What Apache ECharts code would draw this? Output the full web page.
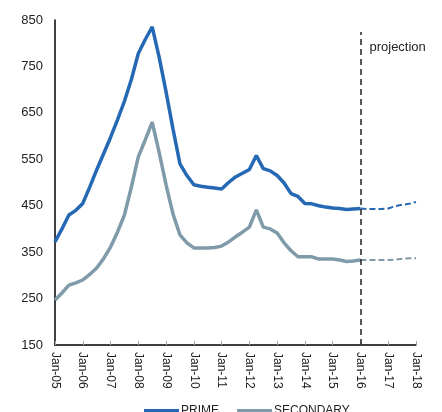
<!DOCTYPE html>
<html>
<head>
<meta charset="utf-8">
<script src="https://cdn.jsdelivr.net/npm/echarts@6/dist/echarts.min.js"></script>
<style>
  html, body { margin: 0; padding: 0; background: #fff; }
  #chart { width: 442px; height: 412px; }
</style>
</head>
<body>
<div id="chart"></div>
<script>
// Quarterly periods, Jan-05 .. Jan-18
const months = ['Jan', 'Apr', 'Jul', 'Oct'];
const periods = [];
for (let y = 5; y <= 18; y++) {
  for (let q = 0; q < 4; q++) {
    if (y === 18 && q > 0) break;
    periods.push(months[q] + '-' + String(y).padStart(2, '0'));
  }
}

// Index values, historical (Jan-05 .. Jan-16)
const primeActual = [
  372, 400, 430, 440,
  455, 490, 527, 562,
  597, 635, 675, 722,
  778, 808, 835, 770,
  695, 615, 540, 515,
  495, 492, 490, 488,
  486, 500, 512, 520,
  528, 558, 530, 525,
  515, 499, 476, 470,
  455, 454, 450, 447,
  445, 444, 442, 443,
  444
];
const secondaryActual = [
  247, 262, 279, 284,
  290, 302, 316, 336,
  361, 393, 430, 490,
  555, 592, 630, 565,
  495, 432, 387, 370,
  359, 359, 359, 360,
  363, 372, 383, 393,
  404, 441, 404, 400,
  391, 370, 353, 340,
  340, 340, 335, 335,
  335, 333, 330, 331,
  333
];

// Projection (Jan-16 .. Jan-18)
const primeProjection = [444, 443, 443, 443, 444, 449, 452, 454, 458];
const secondaryProjection = [333, 333, 333, 333, 333, 334, 336, 337, 337];

const projectionStart = 'Jan-16';
const projectionLabel = 'projection';

const primeColor = '#2568b3';
const secondaryColor = '#7f9aa9';

function padProjection(proj) {
  const offset = periods.indexOf(projectionStart);
  return periods.map((p, i) => (i >= offset ? proj[i - offset] : null));
}

const chart = echarts.init(document.getElementById('chart'), null, { renderer: 'canvas' });

const font = 'Liberation Sans, Arial, Helvetica, sans-serif';

chart.setOption({
  animation: false,
  textStyle: { fontFamily: font },
  grid: { left: 55, right: 26, top: 20, bottom: 67 },
  legend: {
    data: ['PRIME', 'SECONDARY'],
    left: 139,
    top: 400,
    icon: 'rect',
    itemWidth: 35,
    itemHeight: 4,
    itemGap: 18,
    textStyle: { fontSize: 12, color: '#222', fontFamily: font, padding: [0, 0, 0, -3] }
  },
  xAxis: {
    type: 'category',
    data: periods,
    boundaryGap: false,
    axisLine: { lineStyle: { color: '#000', width: 1.5 } },
    axisTick: {
      inside: true, length: 4, interval: 3,
      lineStyle: { color: '#aaa', width: 1 }
    },
    axisLabel: {
      interval: 3,
      rotate: -90,
      margin: 7,
      fontSize: 12,
      color: '#222',
      fontFamily: font
    },
    splitLine: { show: false }
  },
  yAxis: {
    type: 'value',
    min: 150,
    max: 850,
    interval: 50,
    axisLine: { show: true, lineStyle: { color: '#000', width: 1.5 } },
    axisTick: { show: false },
    splitLine: { show: false },
    axisLabel: {
      margin: 12,
      fontSize: 13,
      color: '#222',
      fontFamily: font,
      formatter: v => ((v - 150) % 100 === 0 ? String(v) : '')
    }
  },
  series: [
    {
      name: 'PRIME',
      type: 'line',
      data: primeActual,
      showSymbol: false,
      lineStyle: { color: primeColor, width: 3.5 },
      itemStyle: { color: primeColor },
      z: 3
    },
    {
      name: 'SECONDARY',
      type: 'line',
      data: secondaryActual,
      showSymbol: false,
      lineStyle: { color: secondaryColor, width: 3.5 },
      itemStyle: { color: secondaryColor },
      z: 2
    },
    {
      name: 'PRIME projection',
      type: 'line',
      data: padProjection(primeProjection),
      showSymbol: false,
      lineStyle: { color: primeColor, width: 2, type: [6, 3] },
      itemStyle: { color: primeColor },
      markLine: {
        silent: true,
        symbol: ['none', 'none'],
        label: { show: false },
        lineStyle: { color: '#222', width: 1.5, type: [6, 4] },
        data: [[
          { coord: [projectionStart, 150] },
          { coord: [projectionStart, 824] }
        ]]
      },
      markPoint: {
        silent: true,
        symbol: 'circle',
        symbolSize: 0,
        label: {
          show: true,
          position: 'right',
          distance: 9,
          formatter: projectionLabel,
          fontSize: 13,
          color: '#222',
          fontFamily: font
        },
        data: [{ coord: [projectionStart, 792] }]
      }
    },
    {
      name: 'SECONDARY projection',
      type: 'line',
      data: padProjection(secondaryProjection),
      showSymbol: false,
      lineStyle: { color: secondaryColor, width: 2, type: [6, 3] },
      itemStyle: { color: secondaryColor }
    }
  ]
});
</script>
</body>
</html>
